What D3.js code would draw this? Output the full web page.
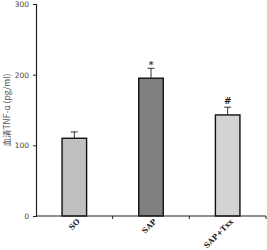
<!DOCTYPE html>
<html>
<head>
<meta charset="utf-8">
<script src="https://cdn.jsdelivr.net/npm/d3@7"></script>
<style>
  body { margin: 0; background: #fff; }
  svg { display: block; }
</style>
</head>
<body>
<div id="chart"></div>
<script>
// data
const groups = ['SO', 'SAP', 'SAP+Txx']
const tnf = [110, 195, 143]
const sem = [9, 14, 11]
const marks = ['', '*', '#']
const fills = ['#c0c0c0', '#808080', '#d3d3d3']
const yTicks = [0, 100, 200, 300]

const width = 267, height = 250
const margin = {left: 36, right: 1, top: 4, bottom: 34}

let svg = d3.select('#chart').append('svg')
    .attr('width', width)
    .attr('height', height)

let x = d3.scaleBand()
    .domain(groups)
    .range([margin.left, width - margin.right])
    .paddingInner(0.68)
    .paddingOuter(0.34)

let y = d3.scaleLinear()
    .domain([0, 300])
    .range([height - margin.bottom, margin.top])

// band edges for the x ticks
let step = x.step()
let edges = [1, 2, 3].map(i => margin.left + i * step)

// bars
svg.append('g').selectAll('rect')
    .data(groups)
  .enter().append('rect')
    .attr('x', d => x(d))
    .attr('y', (d, i) => y(tnf[i]))
    .attr('width', x.bandwidth())
    .attr('height', (d, i) => y(0) - y(tnf[i]))
    .attr('fill', (d, i) => fills[i])
    .attr('stroke', '#111')
    .attr('stroke-width', 1.4)

// error bars
let eb = svg.append('g').attr('stroke', '#333').attr('stroke-width', 1)
groups.forEach((g, i) => {
    let cx = x(g) + x.bandwidth() / 2
    eb.append('line')
        .attr('x1', cx).attr('x2', cx)
        .attr('y1', y(tnf[i])).attr('y2', y(tnf[i] + sem[i]))
    eb.append('line')
        .attr('x1', cx - 3.5).attr('x2', cx + 3.5)
        .attr('y1', y(tnf[i] + sem[i])).attr('y2', y(tnf[i] + sem[i]))
    if (marks[i]) {
        svg.append('text')
            .attr('x', cx)
            .attr('y', y(tnf[i] + sem[i]) - (marks[i] == '*' ? 0 : 3))
            .attr('text-anchor', 'middle')
            .attr('font-family', 'DejaVu Serif, serif')
            .attr('font-weight', 'bold')
            .attr('font-size', 9)
            .attr('fill', '#222')
            .text(marks[i])
    }
})

// y axis
let yAxis = d3.axisLeft(y).tickValues(yTicks).tickSize(3).tickPadding(4)
let ya = svg.append('g')
    .attr('transform', `translate(${margin.left},0)`)
    .call(yAxis)
ya.select('.domain').attr('stroke', '#222').attr('stroke-width', 1.2)
ya.selectAll('line').attr('stroke', '#222')
ya.selectAll('text')
    .attr('font-family', 'DejaVu Sans, sans-serif')
    .attr('font-size', 7.5)
    .attr('fill', '#444')

// x axis line and ticks at band edges
let xa = svg.append('g').attr('stroke', '#222')
xa.append('line')
    .attr('x1', margin.left).attr('x2', width - margin.right)
    .attr('y1', y(0)).attr('y2', y(0))
    .attr('stroke-width', 1.2)
xa.selectAll('.tk')
    .data(edges)
  .enter().append('line')
    .attr('class', 'tk')
    .attr('x1', d => d).attr('x2', d => d)
    .attr('y1', y(0)).attr('y2', y(0) + 3)

// x labels, rotated
svg.append('g').selectAll('text')
    .data(groups)
  .enter().append('text')
    .attr('transform', d => `translate(${x(d) + x.bandwidth() / 2 + 6},${y(0) + 6}) rotate(-45)`)
    .attr('text-anchor', 'end')
    .attr('font-family', 'DejaVu Serif, serif')
    .attr('font-weight', 'bold')
    .attr('font-size', 7.5)
    .attr('fill', '#222')
    .text(d => d)

// y title
svg.append('text')
    .attr('transform', `translate(10,${y(150)}) rotate(-90)`)
    .attr('text-anchor', 'middle')
    .attr('font-family', 'Noto Sans CJK SC, DejaVu Sans, sans-serif')
    .attr('font-size', 8.5)
    .attr('fill', '#555')
    .text('血清TNF-α (pg/ml)')
</script>
</body>
</html>
